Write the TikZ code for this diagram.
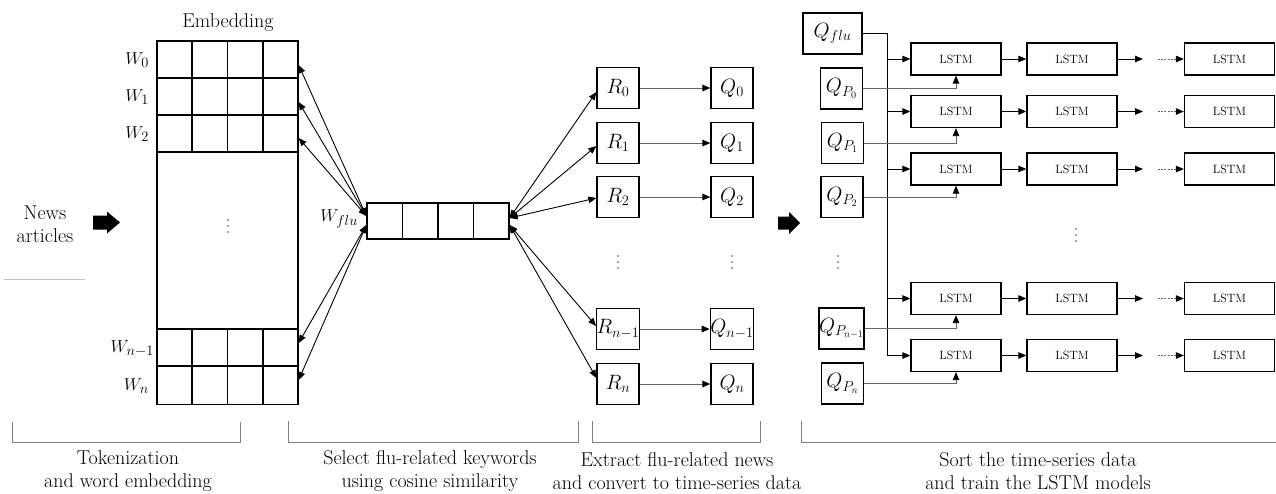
\documentclass[tikz,border=0pt]{standalone}
\usetikzlibrary{arrows.meta,calc}
\begin{document}
\begin{tikzpicture}[x=1pt,y=-1pt,
  box/.style={draw,line width=1.3pt,inner sep=0pt},
  row/.style={box,minimum width=141pt,minimum height=37pt},
  sq/.style={box,minimum width=42pt,minimum height=41pt,font=\fontsize{20}{20}\selectfont},
  lstm/.style={box,minimum width=90pt,minimum height=32pt,font=\fontsize{12}{12}\selectfont},
  tipA/.tip={Triangle[length=8pt,width=6.5pt,color=black,fill=black]},
  con/.style={line width=0.9pt,-tipA},
  gcon/.style={line width=0.9pt,draw=black!60,-tipA},
  bi/.style={line width=0.9pt,tipA-tipA},
  brk/.style={draw=black!50,line width=1pt},
  captxt/.style={align=center,font=\fontsize{20}{23}\selectfont},
  lbl/.style={inner sep=0pt,font=\fontsize{19}{19}\selectfont},
  dt/.style={fill=black!70,radius=0.9pt}
]
\useasboundingbox (0,0) rectangle (1276,493);

% ---------- Embedding matrix ----------
\node[captxt] (embl) at (228,23) {Embedding};
\node[row] (w0) at (227.5,59.5) {};
\node[row] (w1) at (227.5,96.5) {};
\node[row] (w2) at (227.5,133.5) {};
\node[box,minimum width=141pt,minimum height=177pt] (wmid) at (227.5,240.5) {};
\node[row] (wn1) at (227.5,347.5) {};
\node[row,minimum height=38pt] (wn) at (227.5,385.5) {};
\foreach \r in {w0,w1,w2,wn1,wn}{
  \foreach \f in {0.25,0.5,0.75}{
    \draw[line width=1.3pt] ($(\r.north west)!\f!(\r.north east)$) -- ($(\r.south west)!\f!(\r.south east)$);
  }
}
\foreach \x/\y in {228/220,618/256,732/256,838/256,1076/229}{
  \fill[dt] (\x,\y) circle;
  \fill[dt] (\x,\y+6) circle;
  \fill[dt] (\x,\y+12) circle;
}
\node[lbl,anchor=east] (lw0) at (149,60) {$W_0$};
\node[lbl,anchor=east] (lw1) at (149,97) {$W_1$};
\node[lbl,anchor=east] (lw2) at (149,134) {$W_2$};
\node[lbl,anchor=east] (lwn1) at (154,349) {$W_{n-1}$};
\node[lbl,anchor=east] (lwn) at (149,386) {$W_n$};

% ---------- News articles ----------
\node[captxt] (news) at (45,224) {News\\articles};
\fill (93,215.5) -- (107,215.5) -- (107,211.5) -- (120,222.5) -- (107,233.5) -- (107,229.5) -- (93,229.5) -- cycle;
\draw[black!25,line width=0.6pt] (4,279) -- (85,279);

% ---------- W_flu vector ----------
\node[box,minimum width=142pt,minimum height=36pt] (wflu) at (438,221) {};
\foreach \f in {0.25,0.5,0.75}{
  \draw[line width=1.3pt] ($(wflu.north west)!\f!(wflu.north east)$) -- ($(wflu.south west)!\f!(wflu.south east)$);
}
\node[lbl,anchor=east] (lwflu) at (358,219) {$W_{flu}$};

\draw[bi] ([yshift=5pt]wflu.west) -- ([yshift=-5.5pt]w0.east);
\draw[bi] ([yshift=5pt]wflu.west) -- ([yshift=-5.5pt]w1.east);
\draw[bi] ([yshift=5pt]wflu.west) -- ([yshift=-4.5pt]w2.east);
\draw[bi] ([yshift=-4pt]wflu.west) -- ([yshift=4.5pt]wn1.east);
\draw[bi] ([yshift=-4pt]wflu.west) -- ([yshift=5.5pt]wn.east);

% ---------- R and Q ----------
\node[sq] (r0) at (618,88) {$R_0$};
\node[sq] (r1) at (618,143) {$R_1$};
\node[sq] (r2) at (618,197) {$R_2$};
\node[sq] (rn1) at (618,329) {$R_{n-1}$};
\node[sq] (rn) at (618,384) {$R_n$};
\node[sq] (q0) at (732,88) {$Q_0$};
\node[sq] (q1) at (732,143) {$Q_1$};
\node[sq] (q2) at (732,197) {$Q_2$};
\node[sq] (qn1) at (732,329) {$Q_{n-1}$};
\node[sq] (qn) at (732,384) {$Q_n$};

\draw[bi] ([yshift=3pt]wflu.east) -- ([yshift=-4pt]r0.west);
\draw[bi] ([yshift=3pt]wflu.east) -- ([yshift=-3pt]r1.west);
\draw[bi] ([yshift=3pt]wflu.east) -- ([yshift=-1pt]r2.west);
\draw[bi] ([yshift=-4pt]wflu.east) -- ([yshift=3pt]rn1.west);
\draw[bi] ([yshift=-4pt]wflu.east) -- ([yshift=6pt]rn.west);

\foreach \a/\b in {r0/q0,r1/q1,r2/q2,rn1/qn1,rn/qn}{
  \draw[gcon] (\a.east) -- (\b.west);
}

\fill (778,216.5) -- (789,216.5) -- (789,212) -- (800,223) -- (789,234) -- (789,229.5) -- (778,229.5) -- cycle;

% ---------- Q_flu, Q_P and LSTMs ----------
\node[sq,minimum width=59pt] (qflu) at (832.5,33.5) {$Q_{flu}$};
\node[sq] (qp0) at (841.5,88.5) {$Q_{P_0}$};
\node[sq] (qp1) at (842.5,143) {$Q_{P_1}$};
\node[sq] (qp2) at (842,197) {$Q_{P_2}$};
\node[sq] (qpn1) at (841.5,328.5) {$Q_{P_{n-1}}$};
\node[sq] (qpn) at (842.5,383.5) {$Q_{P_n}$};

\foreach \i/\y in {0/59,1/111.5,2/169,3/298.5,4/355.5}{
  \node[lstm] (la\i) at (956,\y) {LSTM};
  \node[lstm] (lb\i) at (1072,\y) {LSTM};
  \node[lstm] (lc\i) at (1229.5,\y) {LSTM};
  \coordinate (e\i) at (1143,\y);
  \coordinate (s\i) at (1158,\y);
  \draw[con] (la\i.east) -- (lb\i.west);
  \draw[con] (lb\i.east) -- (e\i);
  \draw[line width=0.9pt,black!60,dash pattern=on 2pt off 1.2pt,-tipA] (s\i) -- (lc\i.west);
}

\coordinate (bustop) at (887,33.5);
\coordinate (busbot) at (887,355.5);
\draw[line width=0.9pt] (qflu.east) -- (bustop) -- (busbot);
\foreach \i in {0,1,2,3,4}{
  \draw[con] (la\i.west -| bustop) -- (la\i.west);
}
\draw[gcon] (qp0.east) -| (la0.south);
\draw[gcon] (qp1.east) -| (la1.south);
\draw[gcon] (qp2.east) -| (la2.south);
\draw[gcon] (qpn1.east) -| (la3.south);
\draw[gcon] (qpn.east) -| (la4.south);

% ---------- Brackets and captions ----------
\draw[brk] (12,422) -- (12,442) -- (240,442) -- (240,422);
\draw[brk] (288,421) -- (288,442) -- (578,442) -- (578,421);
\draw[brk] (592,421) -- (592,442) -- (760,442) -- (760,421);
\draw[brk] (801,421) -- (801,442) -- (1276,442);

\node[captxt] (c1) at (128,471) {Tokenization\\and word embedding};
\node[captxt] (c2) at (430,471) {Select flu-related keywords\\using cosine similarity};
\node[captxt] (c3) at (677,471) {Extract flu-related news\\and convert to time-series data};
\node[captxt] (c4) at (1038,471) {Sort the time-series data\\and train the LSTM models};
\end{tikzpicture}
\end{document}
